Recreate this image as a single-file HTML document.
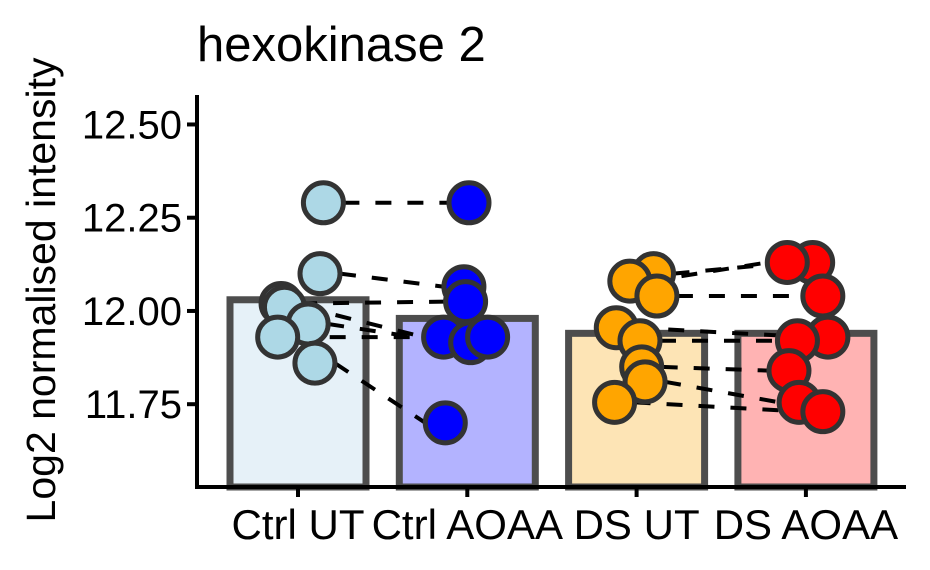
<!DOCTYPE html>
<html><head><meta charset="utf-8"><style>
html,body{margin:0;padding:0;background:#fff;}
svg{display:block;font-family:"Liberation Sans",Arial,sans-serif;}
</style></head><body>
<svg id="chart" width="930" height="570" viewBox="0 0 930 570">
<text x="197" y="61" font-size="49" fill="#000">hexokinase 2</text>
<text transform="translate(55,290) rotate(-90)" text-anchor="middle" font-size="41" fill="#000">Log2 normalised intensity</text>
<g id="bars"></g><g id="lines"></g><g id="points"></g><g id="axes"></g>
</svg>
<script>
const categories = ["Ctrl UT","Ctrl AOAA","DS UT","DS AOAA"];
const fills = ["#e6f1f8","#b3b3ff","#fde4b5","#ffb3b3"];
const pointFills = ["#add8e6","#0000ff","#ffa500","#ff0000"];
const means = [12.03, 11.98, 11.94, 11.94];
const yTicks = [11.75, 12.00, 12.25, 12.50];
const yTickLabels = ["11.75","12.00","12.25","12.50"];
const ctrlUT = [12.29, 12.10, 12.02, 12.01, 11.965, 11.93, 11.86];
const ctrlUTx = [0.15, 0.13, -0.1, -0.08, 0.06, -0.12, 0.1];
const ctrlAOAA = [12.29, 12.065, 12.025, 11.93, 11.915, 11.93, 11.70];
const ctrlAOAAx = [0.01, -0.02, -0.01, -0.14, 0.02, 0.12, -0.13];
const dsUT = [12.10, 12.08, 12.04, 11.955, 11.92, 11.85, 11.81, 11.755];
const dsUTx = [0.1, -0.04, 0.12, -0.12, 0.02, 0.03, 0.05, -0.13];
const dsAOAA = [12.13, 12.13, 12.04, 11.93, 11.92, 11.84, 11.755, 11.73];
const dsAOAAx = [0.04, -0.11, 0.1, 0.13, -0.05, -0.1, -0.04, 0.1];
const groups = [ctrlUT, ctrlAOAA, dsUT, dsAOAA];
const groupsX = [ctrlUTx, ctrlAOAAx, dsUTx, dsAOAAx];

const NS = "http://www.w3.org/2000/svg";
const yMin = 11.528, yMax = 12.579, yTop = 95, yBot = 487;
function yScale(v){ return yBot - (v - yMin) / (yMax - yMin) * (yBot - yTop); }
const xLeft = 197, step = 169.3, x0 = 298;
function xScale(i){ return x0 + i * step; }
const barW = 136, R = 20;
function mk(tag, attrs, parent){ const e = document.createElementNS(NS, tag); for (const k in attrs) e.setAttribute(k, attrs[k]); parent.appendChild(e); return e; }

const gB = document.getElementById("bars");
means.forEach((m, i) => {
  const r = mk("rect", {x: xScale(i) - barW/2, y: yScale(m), width: barW, height: yBot - yScale(m), fill: fills[i], stroke: "#4d4d4d", "stroke-width": 7}, gB);
  
  
});

const gL = document.getElementById("lines");
[[0,1],[2,3]].forEach(([a,b]) => {
  groups[a].forEach((v, k) => {
    if (k >= groups[b].length) return;
    const l = mk("line", {x1: xScale(a) + groupsX[a][k]*step + R, y1: yScale(v), x2: xScale(b) + groupsX[b][k]*step - R, y2: yScale(groups[b][k]), stroke: "#000", "stroke-width": 4, "stroke-dasharray": "16,16"}, gL);
    
    
  });
});

const gP = document.getElementById("points");
groups.forEach((g, i) => {
  g.forEach((v, k) => {
    const c = mk("circle", {cx: xScale(i) + groupsX[i][k]*step, cy: yScale(v), r: R, fill: pointFills[i], stroke: "#333333", "stroke-width": 5}, gP);
    
    
  });
});

const gA = document.getElementById("axes");
let e = mk("line", {x1: xLeft, y1: yTop, x2: xLeft, y2: yBot + 2, stroke: "#000", "stroke-width": 4}, gA);


e = mk("line", {x1: xLeft - 2, y1: yBot, x2: 906, y2: yBot, stroke: "#000", "stroke-width": 4}, gA);


yTicks.forEach((t, i) => {
  const tk = mk("line", {x1: xLeft - 10, y1: yScale(t), x2: xLeft, y2: yScale(t), stroke: "#000", "stroke-width": 4}, gA);
  
  
  const tx = mk("text", {x: xLeft - 15, y: yScale(t) + 14, "text-anchor": "end", "font-size": 40, fill: "#000"}, gA);
  tx.textContent = yTickLabels[i];
  
  
});
categories.forEach((c, i) => {
  const tk = mk("line", {x1: xScale(i), y1: yBot, x2: xScale(i), y2: yBot + 10, stroke: "#000", "stroke-width": 4}, gA);
  
  
  const tx = mk("text", {x: xScale(i), y: 539, "text-anchor": "middle", "font-size": 42, fill: "#000"}, gA);
  tx.textContent = c;
  
  
});
</script>
</body></html>
